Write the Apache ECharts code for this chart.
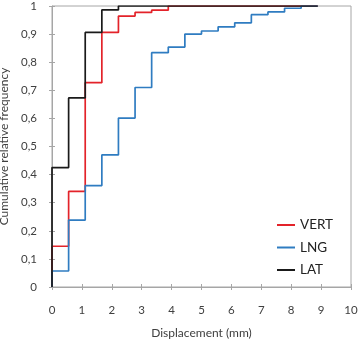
<!DOCTYPE html>
<html><head><meta charset="utf-8">
<script src="https://cdn.jsdelivr.net/npm/echarts@6/dist/echarts.min.js"></script>
<style>html,body{margin:0;padding:0;background:#fff}#c{width:360px;height:340px}</style>
</head><body><div id="c"></div>
<script>
// bin edges (mm)
const edges = [0, 0.556, 1.111, 1.667, 2.222, 2.778, 3.333, 3.889, 4.444, 5.0, 5.556, 6.111, 6.667, 7.222, 7.778, 8.333, 8.889];
const endX = 8.889;
// cumulative relative frequency per bin
const vert = [0.145, 0.34, 0.727, 0.906, 0.964, 0.977, 0.985, 1];
const lng = [0.057, 0.238, 0.361, 0.470, 0.601, 0.710, 0.834, 0.854, 0.900, 0.911, 0.926, 0.940, 0.969, 0.979, 0.992, 1];
const lat = [0.425, 0.673, 0.906, 0.986, 1];
const xTicks = [0,1,2,3,4,5,6,7,8,9,10];
const yTicks = ['0','0,1','0,2','0,3','0,4','0,5','0,6','0,7','0,8','0,9','1'];

function build(vals){
  const pts = [[0,0]];
  vals.forEach((v,i)=>pts.push([edges[i], v]));
  pts.push([endX, vals[vals.length-1]]);
  return pts;
}
const font = 'Lato';
const txt = '#404040';
const axisCol = '#a6a6a6';
const chart = echarts.init(document.getElementById('c'));
chart.setOption({
  animation:false,
  textStyle:{fontFamily:font},
  grid:{left:52,right:9,top:6,bottom:53,show:true,borderColor:axisCol,borderWidth:1,backgroundColor:'transparent',outerBoundsMode:'none',containLabel:false},
  legend:{
    orient:'vertical',left:277,top:218,padding:0,itemWidth:18,itemHeight:2,itemGap:8.5,icon:'rect',
    textStyle:{fontFamily:font,fontSize:13.5,color:'#222',lineHeight:14},
    data:['VERT','LNG','LAT']
  },
  xAxis:[{
    type:'value',min:0,max:10,interval:1,position:'bottom',
    name:'Displacement (mm)',nameLocation:'middle',nameGap:40,
    nameTextStyle:{fontFamily:font,fontSize:12,color:txt},
    axisLine:{lineStyle:{color:axisCol,width:1}},
    axisTick:{show:true,length:3,lineStyle:{color:axisCol}},
    axisLabel:{margin:17,fontFamily:font,fontSize:11.5,color:txt,formatter:v=>String(xTicks[Math.round(v)])},
    splitLine:{show:false}
  },{
    type:'value',min:0,max:10,interval:1,position:'bottom',
    axisLine:{show:false},axisTick:{show:true,inside:true,length:3,lineStyle:{color:axisCol}},
    axisLabel:{show:false},splitLine:{show:false}
  }],
  yAxis:[{
    type:'value',min:0,max:1,interval:0.1,position:'left',
    name:'Cumulative relative frequency',nameLocation:'middle',nameGap:41,
    nameTextStyle:{fontFamily:font,fontSize:12,color:txt},
    axisLine:{show:true,lineStyle:{color:axisCol,width:1}},
    axisTick:{show:true,length:3,lineStyle:{color:axisCol}},
    axisLabel:{margin:15,fontFamily:font,fontSize:11.5,color:txt,formatter:v=>yTicks[Math.round(v*10)]},
    splitLine:{show:false}
  },{
    type:'value',min:0,max:1,interval:0.1,position:'left',
    axisLine:{show:false},axisTick:{show:true,inside:true,length:3,lineStyle:{color:axisCol}},
    axisLabel:{show:false},splitLine:{show:false}
  }],
  series:[
    {name:'VERT',type:'line',step:'end',data:build(vert),showSymbol:false,symbol:'none',lineStyle:{color:'#e3232a',width:1.7},itemStyle:{color:'#e3232a'}},
    {name:'LNG',type:'line',step:'end',data:build(lng),showSymbol:false,symbol:'none',lineStyle:{color:'#2f7cc1',width:1.7},itemStyle:{color:'#2f7cc1'}},
    {name:'LAT',type:'line',step:'end',data:build(lat),showSymbol:false,symbol:'none',lineStyle:{color:'#1a1a1a',width:1.7},itemStyle:{color:'#1a1a1a'}}
  ]
});
</script></body></html>
